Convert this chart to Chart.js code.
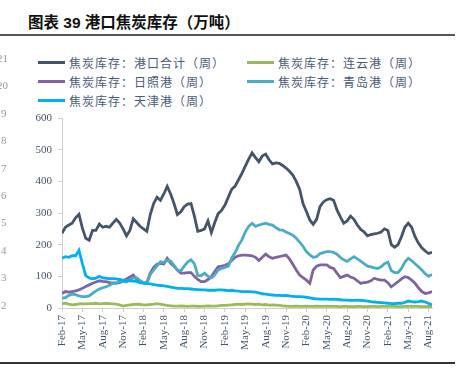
<!DOCTYPE html>
<html lang="zh">
<head>
<meta charset="utf-8">
<title>港口焦炭库存</title>
<script src="https://cdn.jsdelivr.net/npm/chart.js@4.4.1/dist/chart.umd.min.js"></script>
<style>
  html, body { margin: 0; padding: 0; background: #fff; }
  #page { position: relative; width: 467px; height: 386px; overflow: hidden; }
  #title {
    position: absolute; left: 28px; top: 10px;
    font: bold 15.5px "Liberation Sans", "Noto Sans CJK SC", sans-serif;
    color: #111; white-space: nowrap;
  }
  .rule { position: absolute; left: 0; width: 455px; background: #555; }
  #legend {
    position: absolute; left: 38px; top: 53px;
    display: grid; grid-template-columns: 209px 209px; grid-auto-rows: 19px;
  }
  .item { display: flex; align-items: center; white-space: nowrap;
    font: 12px "Noto Sans CJK SC", sans-serif; letter-spacing: 1px; color: #4A5A78; }
  .swatch { width: 27px; height: 3px; margin-right: 4px; }
  .frag { position: absolute; font: 11px "Liberation Serif", serif; color: #999; }
  canvas { position: absolute; left: 0; top: 0; }
</style>
</head>
<body>
<div id="page">
  <div id="title">图表 39 港口焦炭库存（万吨）</div>
  <div class="rule" style="top:34px;height:1.5px"></div>
  <div id="legend"></div>
  <canvas id="chart" width="467" height="386"></canvas>
  <div class="rule" style="top:362px;height:1.5px;background:#333"></div>
</div>
<script>
// --- 1. データ（半月ごと、2017年2月〜2021年8月） ---
const tickLabels = ['Feb-17', 'May-17', 'Aug-17', 'Nov-17', 'Feb-18', 'May-18', 'Aug-18', 'Nov-18',
  'Feb-19', 'May-19', 'Aug-19', 'Nov-19', 'Feb-20', 'May-20', 'Aug-20', 'Nov-20', 'Feb-21', 'May-21', 'Aug-21'];

const seriesNames = ['焦炭库存：港口合计（周）', '焦炭库存：连云港（周）', '焦炭库存：日照港（周）',
  '焦炭库存：青岛港（周）', '焦炭库存：天津港（周）'];
const seriesColors = ['#44546A', '#9BBB59', '#8064A2', '#4BACC6', '#00B0F0'];

const portTotal = [
  236, 255, 262, 268, 285, 296, 252, 220, 214, 245,
  245, 265, 255, 258, 255, 268, 280, 268, 250, 228,
  245, 282, 270, 258, 250, 242, 295, 330, 350, 340,
  360, 384, 360, 330, 295, 304, 320, 328, 330, 290,
  242, 245, 250, 275, 238, 270, 298, 308, 325, 350,
  375, 385, 405, 425, 448, 470, 490, 475, 462, 480,
  486, 468, 455, 458, 457, 450, 442, 432, 420, 400,
  375, 330, 305, 278, 264, 280, 320, 335, 342, 345,
  340, 310, 288, 268, 275, 290, 280, 262, 248, 240,
  228, 232, 234, 236, 240, 250, 245, 200, 192, 200,
  225, 255, 268, 255, 225, 205, 190, 180, 172, 176
];
const lianyungang = [
  14, 15, 12, 10, 11, 13, 14, 13, 14, 14,
  15, 13, 14, 15, 14, 13, 12, 10, 6, 8,
  10, 11, 12, 11, 10, 10, 11, 12, 14, 12,
  10, 8, 7, 6, 6, 7, 6, 5, 6, 6,
  5, 5, 6, 7, 6, 6, 7, 8, 8, 9,
  10, 11, 12, 11, 12, 13, 12, 11, 12, 10,
  11, 9, 10, 9, 8, 7, 6, 5, 5, 6,
  5, 5, 6, 5, 5, 6, 5, 5, 6, 5,
  5, 5, 4, 5, 5, 4, 4, 5, 5, 4,
  4, 5, 5, 4, 5, 5, 6, 5, 5, 4,
  4, 5, 5, 6, 5, 5, 4, 4, 5, 4
];
const rizhao = [
  46, 52, 50, 52, 54, 57, 62, 68, 73, 78,
  82, 86, 84, 83, 80, 79, 79, 80, 86, 92,
  98, 104, 90, 83, 81, 80, 110, 128, 138, 141,
  139, 157, 141, 132, 120, 110, 110, 112, 112, 100,
  90, 83, 83, 90, 99, 115, 130, 132, 135, 140,
  150, 160, 165, 167, 167, 166, 165, 160, 150, 160,
  170, 162, 157, 160, 162, 165, 167, 155, 138, 120,
  104, 96, 88, 78, 120, 132, 136, 136, 136, 128,
  125, 110, 96, 100, 104, 98, 94, 86, 78, 80,
  82, 86, 94, 90, 88, 88, 80, 67, 75, 83,
  92, 99, 96, 88, 78, 64, 52, 46, 48, 52
];
const qingdao = [
  31, 33, 40, 44, 42, 38, 36, 36, 38, 46,
  54, 60, 64, 67, 72, 78, 78, 86, 84, 82,
  88, 95, 96, 86, 80, 78, 105, 120, 133, 146,
  144, 150, 148, 135, 120, 117, 132, 145, 152, 140,
  103, 102, 110, 100, 95, 105, 120, 125, 128, 132,
  158, 175, 198, 215, 240, 258, 267, 258, 262, 265,
  268, 264, 262, 254, 247, 246, 240, 235, 230, 220,
  208, 195, 178, 168, 160, 162, 172, 175, 178, 178,
  176, 170, 160, 152, 147, 155, 162, 155, 148, 140,
  132, 130, 127, 125, 130, 140, 145, 118, 112, 112,
  125, 145, 157, 150, 140, 130, 120, 108, 100, 106
];
const tianjin = [
  157, 162, 160, 165, 165, 182, 140, 102, 95, 92,
  94, 100, 95, 94, 93, 93, 92, 90, 88, 87,
  86, 85, 84, 80, 78, 77, 76, 74, 72, 71,
  70, 68, 66, 64, 62, 62, 61, 61, 60, 59,
  58, 57, 57, 56, 56, 56, 57, 57, 56, 55,
  56, 54, 53, 52, 52, 52, 51, 50, 48, 45,
  44, 42, 41, 40, 40, 39, 40, 38, 37, 36,
  36, 35, 34, 32, 30, 29, 28, 28, 28, 27,
  28, 27, 26, 25, 25, 24, 24, 25, 24, 23,
  22, 20, 19, 18, 17, 16, 15, 14, 14, 15,
  15, 18, 22, 20, 19, 20, 22, 19, 14, 10
];

// 前ページの軸ラベルの切れ端（左端）
const leftFragments = ['21', '20', '9', '8', '7', '6', '5', '4', '3', '2'];

// --- 2. 補助 ---
// x は 2017年2月からの月数（半月刻み）
function toPoints(values) {
  return values.map((v, i) => ({ x: i * 0.5, y: v }));
}

const page = document.getElementById('page');
leftFragments.forEach((t, i) => {
  const d = document.createElement('div');
  d.className = 'frag';
  d.style.top = (52 + i * 27.4) + 'px';
  d.style.left = (t.length > 1 ? -3 : 1) + 'px';
  d.textContent = t;
  page.appendChild(d);
});

// --- 3. グラフ ---
const allSeries = [portTotal, lianyungang, rizhao, qingdao, tianjin];
const serifFont = { family: '"Liberation Serif", "Times New Roman", serif', size: 11 };

const chart = new Chart(document.getElementById('chart'), {
  type: 'line',
  data: {
    datasets: allSeries.map((vals, i) => ({
      label: seriesNames[i],
      data: toPoints(vals),
      borderColor: seriesColors[i],
      backgroundColor: seriesColors[i],
      borderWidth: 2.8,
      pointRadius: 0,
      tension: 0,
      order: 5 - i
    }))
  },
  options: {
    responsive: false,
    animation: false,
    layout: { padding: { left: 0, right: 35, top: 118, bottom: 28 } },
    plugins: { legend: { display: false }, tooltip: { enabled: false } },
    scales: {
      x: {
        type: 'linear',
        min: 0,
        max: 54.5,
        afterFit: s => { s.height = 50; },
        border: { color: '#D0D0D0' },
        grid: { drawOnChartArea: false, tickLength: 4, color: '#D0D0D0' },
        ticks: {
          stepSize: 3,
          includeBounds: false,
          autoSkip: false,
          minRotation: 90,
          maxRotation: 90,
          padding: 3,
          color: '#44546A',
          font: serifFont,
          callback: v => tickLabels[v / 3]
        }
      },
      y: {
        min: 0,
        max: 600,
        afterFit: s => { s.width = 62; },
        border: { color: '#D0D0D0' },
        grid: { drawOnChartArea: false, tickLength: 4, color: '#D0D0D0' },
        ticks: { stepSize: 100, padding: 6, color: '#44546A', font: serifFont }
      }
    }
  }
});

// 凡例（HTML、2列）
const legend = document.getElementById('legend');
chart.data.datasets.forEach(ds => {
  const item = document.createElement('div');
  item.className = 'item';
  item.innerHTML = `<span class="swatch" style="background:${ds.borderColor}"></span>${ds.label}`;
  legend.appendChild(item);
});
</script>
</body>
</html>
